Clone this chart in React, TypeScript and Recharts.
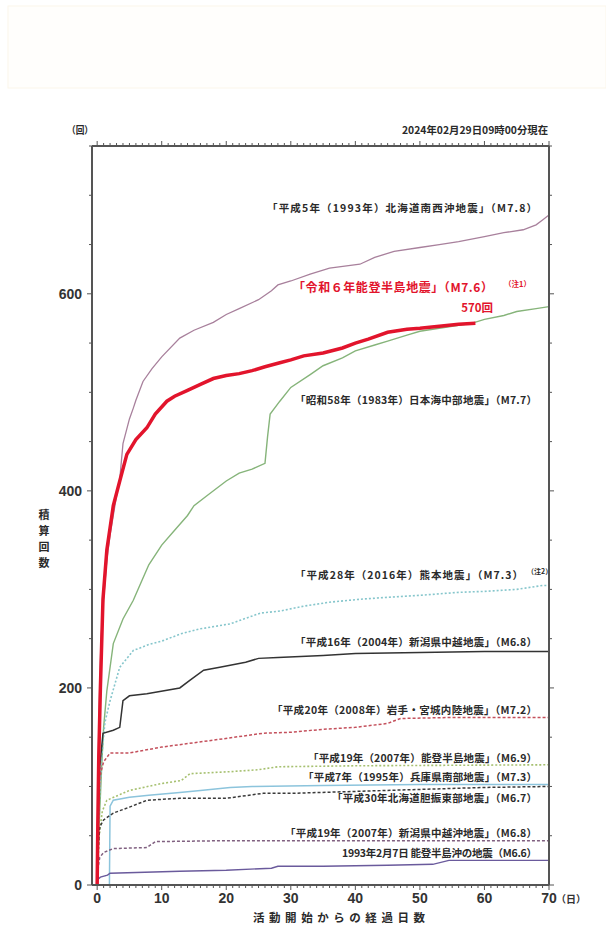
import React from 'react';
import { LineChart, Line, XAxis, YAxis } from 'recharts';

type Pt = [number, number]; // [elapsed days, cumulative count]

const X_TICKS = Array.from({ length: 71 }, (_, i) => i);
const Y_TICKS = Array.from({ length: 16 }, (_, i) => i * 50);
const Y_LABELED = [0, 200, 400, 600];

const HOKKAIDO_SW_1993: Pt[] = [
  [0, 0], [0.1, 100], [0.3, 180], [0.6, 250], [1, 290], [1.5, 330], [2, 355], [3, 395], [3.5, 412],
  [4, 448], [5, 473], [5.6, 484], [6, 492], [7.1, 511], [8.5, 524], [10, 536], [12.8, 555], [15, 563],
  [18, 571], [20, 579], [22, 585], [25, 594], [27, 603], [28, 609], [30, 613], [33, 620], [36, 626],
  [40.7, 630], [43, 637], [46, 643], [50, 647], [53, 650], [56, 653], [60, 658], [63, 662], [66, 665],
  [68, 670], [69, 675], [70, 680],
];

const NOTO_2024: Pt[] = [
  [0, 0], [0.1, 60], [0.25, 130], [0.5, 200], [0.9, 290], [1.5, 340], [2.5, 385], [3.5, 410],
  [4.6, 437], [6, 452], [7.7, 464], [9, 478], [10.8, 491], [12, 496], [14, 502], [16, 508], [18, 514],
  [20, 517], [22, 519], [24, 522], [26, 526], [28.3, 530], [30, 533], [32, 537], [35, 540], [38, 545],
  [40, 550], [42, 554], [45, 561], [48, 564], [50, 565], [53, 567], [56, 569], [58.6, 570],
];

const NIHONKAI_CHUBU_1983: Pt[] = [
  [0, 0], [0.3, 60], [0.7, 120], [1, 160], [1.5, 197], [2.5, 245], [4, 270], [5.6, 289], [7, 310],
  [8, 325], [10, 345], [12, 360], [14, 375], [15, 385], [17, 395], [20, 410], [22, 418], [24, 422],
  [26, 428], [26.4, 455], [26.8, 478], [28.3, 491], [30, 505], [33, 518], [35, 527], [38, 535],
  [40, 542], [43, 548], [45, 552], [48, 558], [50, 562], [53, 565], [55, 567], [58, 570], [60, 574],
  [63, 578], [65, 582], [68, 585], [70, 587],
];

const KUMAMOTO_2016: Pt[] = [
  [0, 0], [0.3, 80], [0.7, 130], [1.2, 165], [2, 187], [3.5, 221], [5.6, 238], [8, 244], [10.2, 248],
  [13, 255], [16, 260], [20.6, 265], [25.3, 276], [28.3, 278], [32, 283], [36, 287], [40.7, 290],
  [45, 292], [50, 294], [56, 297], [60, 298], [65, 300], [69, 304], [70, 304],
];

const CHUETSU_2004: Pt[] = [
  [0, 0], [0.2, 80], [0.4, 120], [0.9, 154], [2.5, 157], [3.5, 160], [4, 187], [5, 192], [7.7, 194],
  [12.8, 200], [14.4, 208], [16.5, 218], [19, 221], [23, 226], [25, 230], [28, 231], [35, 233],
  [40, 235], [50, 236], [60, 237], [70, 237],
];

const IWATE_MIYAGI_2008: Pt[] = [
  [0, 0], [0.2, 80], [0.4, 110], [1, 125], [2, 134], [5, 134], [10, 140], [18, 147], [25.7, 154],
  [30, 155], [35, 158], [40, 160], [45, 164], [47, 169], [55, 170], [70, 170],
];

const NOTO_2007: Pt[] = [
  [0, 0], [0.3, 50], [0.8, 75], [1.5, 86], [5, 96], [10, 103], [13, 106], [14.4, 113], [20.6, 115],
  [25, 117], [28, 120], [40, 121], [70, 122],
];

const HYOGO_1995: Pt[] = [
  [0, 0], [1.9, 0], [2, 80], [2.5, 86], [5, 89], [8, 91], [12.8, 94], [16, 96], [20.6, 99], [24, 100],
  [35, 101], [50, 102], [70, 102],
];

const IBURI_2018: Pt[] = [
  [0, 0], [0.2, 40], [0.4, 59], [1, 66], [2.5, 73], [5, 79], [7.7, 86], [12.8, 88], [20, 88],
  [25.7, 93], [30, 93], [40, 95], [50, 97], [60, 99], [70, 100],
];

const CHUETSU_OKI_2007: Pt[] = [
  [0, 0], [0.2, 20], [0.4, 28], [1, 33], [2.5, 37], [7.7, 38], [9, 44], [20, 45], [70, 45],
];

const NOTO_OKI_1993: Pt[] = [
  [0, 5], [0.5, 8], [1.6, 10], [2, 12], [12.8, 14], [20, 15], [27, 17], [28, 19], [35, 19], [45, 20],
  [52, 21], [54.5, 25], [70, 25],
];

const toRows = (pts: Pt[]) => pts.map(([day, count]) => ({ day, count }));

const SERIES = [
  { id: 'h5', pts: HOKKAIDO_SW_1993, color: '#a8809c', width: 1.3, dash: undefined },
  { id: 's58', pts: NIHONKAI_CHUBU_1983, color: '#86b47a', width: 1.4, dash: undefined },
  { id: 'h28', pts: KUMAMOTO_2016, color: '#86c6cc', width: 1.6, dash: '2 2' },
  { id: 'h16', pts: CHUETSU_2004, color: '#333333', width: 1.5, dash: undefined },
  { id: 'h20', pts: IWATE_MIYAGI_2008, color: '#c4505c', width: 1.5, dash: '3 2' },
  { id: 'h19n', pts: NOTO_2007, color: '#a6c070', width: 1.6, dash: '2 2' },
  { id: 'h7', pts: HYOGO_1995, color: '#8cc4dc', width: 1.5, dash: undefined },
  { id: 'h30', pts: IBURI_2018, color: '#3a3a3a', width: 1.5, dash: '3 2' },
  { id: 'h19o', pts: CHUETSU_OKI_2007, color: '#806080', width: 1.5, dash: '3 2' },
  { id: 'n1993', pts: NOTO_OKI_1993, color: '#6a5a9c', width: 1.4, dash: undefined },
  { id: 'r6', pts: NOTO_2024, color: '#e2142c', width: 3.5, dash: undefined },
];

const LABELS = [
  { text: '「平成5年（1993年）北海道南西沖地震」（M7.8）', y: 212, w: 270 },
  { text: '「昭和58年（1983年）日本海中部地震」（M7.7）', y: 404, w: 242 },
  { text: '「平成28年（2016年）熊本地震」（M7.3）', y: 579, w: 228, right: 523 },
  { text: '「平成16年（2004年）新潟県中越地震」（M6.8）', y: 646, w: 242 },
  { text: '「平成20年（2008年）岩手・宮城内陸地震」（M7.2）', y: 714, w: 265 },
  { text: '「平成19年（2007年）能登半島地震」（M6.9）', y: 762, w: 229 },
  { text: '「平成7年（1995年）兵庫県南部地震」（M7.3）', y: 781, w: 234 },
  { text: '「平成30年北海道胆振東部地震」（M6.7）', y: 802, w: 205 },
  { text: '「平成19年（2007年）新潟県中越沖地震」（M6.8）', y: 837, w: 252 },
  { text: '1993年2月7日 能登半島沖の地震（M6.6）', y: 857, w: 195 },
];

const AXIS = '#555';
const NUM_FONT = "'Liberation Sans', Arial, sans-serif";
const JP_FONT = "'Noto Sans CJK JP', 'Noto Sans', sans-serif";

const BottomTick = (p: any) => {
  const v = p.payload.value;
  const major = v % 10 === 0;
  return (
    <g>
      <line x1={p.x} x2={p.x} y1={p.y} y2={p.y + (major ? 5 : 3)} stroke={AXIS} strokeWidth={1} />
      {major && (
        <text x={p.x} y={p.y + 18} textAnchor="middle" fontSize={14} fontWeight="bold" fill="#333" fontFamily={NUM_FONT}>
          {v}
        </text>
      )}
    </g>
  );
};

const TopTick = (p: any) => {
  const v = p.payload.value;
  const major = v % 10 === 0;
  return <line x1={p.x} x2={p.x} y1={p.y} y2={p.y - (major ? 5 : 3)} stroke={AXIS} strokeWidth={1} />;
};

const LeftTick = (p: any) => {
  const v = p.payload.value;
  const major = Y_LABELED.includes(v);
  return (
    <g>
      <line x1={p.x} x2={p.x - (major ? 5 : 3)} y1={p.y} y2={p.y} stroke={AXIS} strokeWidth={1} />
      {major && (
        <text x={p.x - 10} y={p.y + 5} textAnchor="end" fontSize={14} fontWeight="bold" fill="#333" fontFamily={NUM_FONT}>
          {v}
        </text>
      )}
    </g>
  );
};

const RightTick = (p: any) => {
  const v = p.payload.value;
  const major = Y_LABELED.includes(v);
  return <line x1={p.x} x2={p.x + (major ? 5 : 3)} y1={p.y} y2={p.y} stroke={AXIS} strokeWidth={1} />;
};

export default function App() {
  return (
    <div style={{ position: 'absolute', left: 0, top: 0, width: 606, height: 933, background: '#fff' }}>
      <svg width={606} height={933} style={{ position: 'absolute', left: 0, top: 0 }}>
        <rect x={8} y={6} width={598} height={82} fill="#fffefc" stroke="#fbf6ea" strokeWidth={1} />
      </svg>
      <div style={{ position: 'absolute', left: 0, top: 0 }}>
        <LineChart width={606} height={933} margin={{ top: 145, right: 56, bottom: 18, left: 52 }}>
          <XAxis
            xAxisId="bottom"
            dataKey="day"
            type="number"
            domain={[-0.8, 70]}
            allowDataOverflow
            ticks={X_TICKS}
            interval={0}
            tickSize={0}
            tickMargin={0}
            tickLine={false}
            tick={<BottomTick />}
            height={30}
            axisLine={{ stroke: AXIS, strokeWidth: 2 }}
          />
          <XAxis
            xAxisId="top"
            orientation="top"
            dataKey="day"
            type="number"
            domain={[-0.8, 70]}
            allowDataOverflow
            ticks={X_TICKS}
            interval={0}
            tickSize={0}
            tickMargin={0}
            tickLine={false}
            tick={<TopTick />}
            height={1}
            axisLine={{ stroke: AXIS, strokeWidth: 2 }}
          />
          <YAxis
            yAxisId="left"
            type="number"
            domain={[0, 750]}
            allowDataOverflow
            ticks={Y_TICKS}
            interval={0}
            tickSize={0}
            tickMargin={0}
            tickLine={false}
            tick={<LeftTick />}
            width={40}
            axisLine={{ stroke: AXIS, strokeWidth: 2 }}
          />
          <YAxis
            yAxisId="right"
            orientation="right"
            type="number"
            domain={[0, 750]}
            allowDataOverflow
            ticks={Y_TICKS}
            interval={0}
            tickSize={0}
            tickMargin={0}
            tickLine={false}
            tick={<RightTick />}
            width={1}
            axisLine={{ stroke: AXIS, strokeWidth: 2 }}
          />
          {SERIES.map((s) => (
            <Line
              key={s.id}
              xAxisId="bottom"
              yAxisId="left"
              data={toRows(s.pts)}
              dataKey="count"
              type="linear"
              stroke={s.color}
              strokeWidth={s.width}
              strokeDasharray={s.dash}
              dot={false}
              activeDot={false}
              isAnimationActive={false}
            />
          ))}
        </LineChart>
      </div>
      <svg width={606} height={933} style={{ position: 'absolute', left: 0, top: 0, pointerEvents: 'none' }}>
        <g fontFamily={JP_FONT} fontWeight="bold" fill="#2a2a2a">
          <text x={67} y={134} fontSize={10} textLength={26} lengthAdjust="spacingAndGlyphs">（回）</text>
          <text x={548} y={134} fontSize={10.5} textAnchor="end" textLength={146} lengthAdjust="spacingAndGlyphs">
            2024年02月29日09時00分現在
          </text>
          {['積', '算', '回', '数'].map((c, i) => (
            <text key={c} x={44} y={519 + i * 16} fontSize={11} textAnchor="middle">{c}</text>
          ))}
          <text x={253} y={922} fontSize={11.5} textLength={172} lengthAdjust="spacing">活動開始からの経過日数</text>
          <text x={556} y={903} fontSize={10} fill="#333">（日）</text>
          {LABELS.map((l) => (
            <text
              key={l.text}
              x={(l.right ?? 537) - l.w}
              y={l.y}
              fontSize={10.5}
              textLength={l.w}
              lengthAdjust="spacing"
            >
              {l.text}
            </text>
          ))}
          <text x={527} y={574} fontSize={7}>（注2）</text>
        </g>
        <g fontFamily={JP_FONT} fontWeight="bold" fill="#e2142c">
          <text x={293} y={292} fontSize={12} textLength={200} lengthAdjust="spacing">「令和６年能登半島地震」（M7.6）</text>
          <text x={504} y={287} fontSize={7.5}>（注1）</text>
          <text x={493} y={312} fontSize={11.5} textAnchor="end">570回</text>
        </g>
      </svg>
    </div>
  );
}
